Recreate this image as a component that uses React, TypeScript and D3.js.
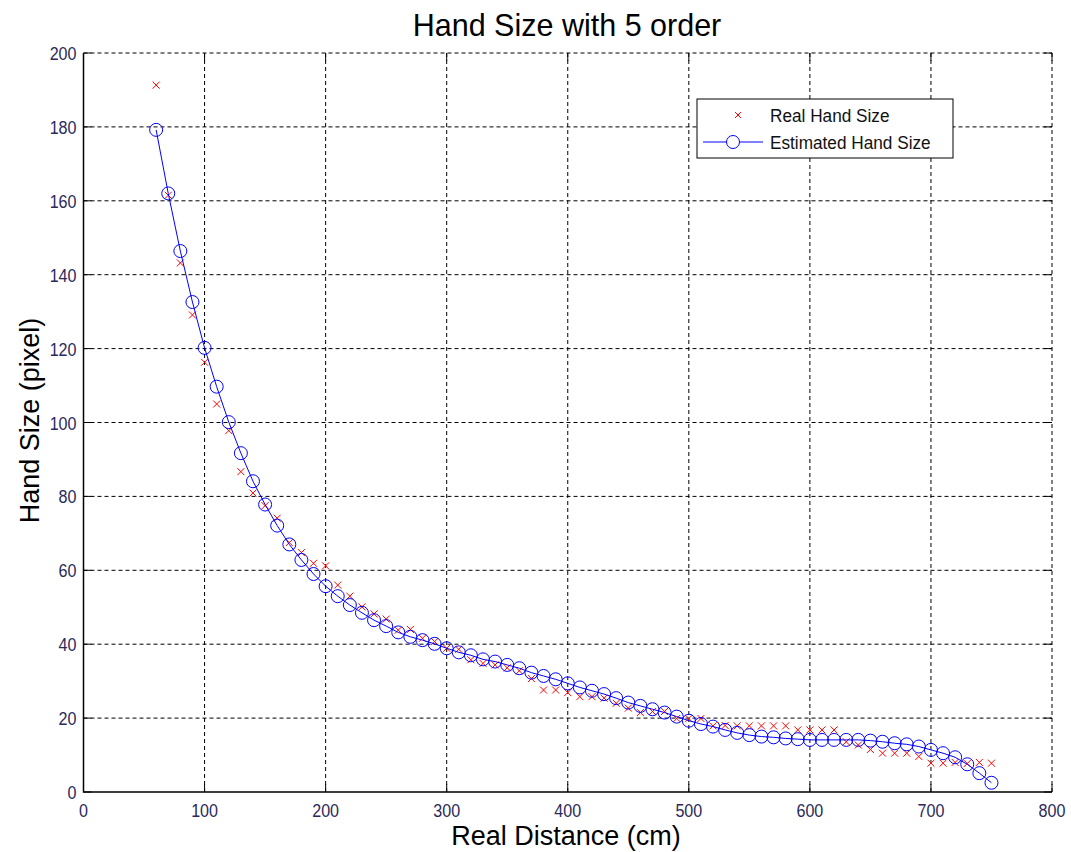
import { useEffect, useRef } from "react";
import * as d3 from "d3";

const distances = [
  60, 70, 80, 90, 100, 110, 120, 130, 140, 150, 160, 170, 180, 190, 200, 210, 220, 230, 240, 250,
  260, 270, 280, 290, 300, 310, 320, 330, 340, 350, 360, 370, 380, 390, 400, 410, 420, 430, 440, 450,
  460, 470, 480, 490, 500, 510, 520, 530, 540, 550, 560, 570, 580, 590, 600, 610, 620, 630, 640, 650,
  660, 670, 680, 690, 700, 710, 720, 730, 740, 750,
];

const realSize = [
  191.3, 161.5, 143.2, 129.1, 116.3, 105, 97.8, 86.7, 80.9, 77.5, 74.1, 67.5, 64.8, 61.9, 61.2, 56, 53, 50.1, 48.2, 46.8,
  43.8, 44, 41.6, 40.7, 38.9, 38.6, 35.8, 34.8, 34.4, 33.6, 32.8, 30.7, 27.6, 27.6, 26.9, 25.8, 25.8, 25.4, 24, 22.7,
  21.5, 21.8, 21.8, 19.9, 19.9, 19.9, 17.9, 18, 17.9, 17.9, 17.9, 17.9, 17.9, 16.8, 16.8, 16.8, 16.8, 13.6, 12.7, 11.5,
  10.5, 10.5, 10.5, 9.6, 7.8, 7.8, 8, 7.7, 8, 7.8,
];

const estimatedSize = [
  179.2, 162, 146.4, 132.6, 120.2, 109.7, 100.1, 91.7, 84.1, 77.8, 72.1, 67, 62.8, 59, 55.7, 53, 50.6, 48.5, 46.5, 44.9,
  43.2, 42, 41.1, 40.1, 38.9, 37.8, 37, 35.9, 35.3, 34.4, 33.5, 32.3, 31.4, 30.5, 29.4, 28.3, 27.4, 26.5, 25.4, 24.2,
  23.3, 22.4, 21.5, 20.4, 19.3, 18.4, 17.7, 16.8, 16, 15.4, 15, 14.8, 14.5, 14.3, 14.1, 14.1, 14.1, 14.1, 14.1, 13.9,
  13.6, 13.2, 12.9, 12.3, 11.4, 10.5, 9.4, 7.5, 5.1, 2.5,
];

const xTicks = [0, 100, 200, 300, 400, 500, 600, 700, 800];
const yTicks = [0, 20, 40, 60, 80, 100, 120, 140, 160, 180, 200];
const seriesNames = ["Real Hand Size", "Estimated Hand Size"];

export default function App() {
  const ref = useRef<SVGSVGElement>(null);

  useEffect(() => {
    const width = 1071;
    const height = 852;
    const left = 83.5;
    const right = 1052;
    const top = 53;
    const bottom = 792;
    const font = "'Liberation Sans', Arial, sans-serif";
    const tickColor = "#2a2a5a";

    const svg = d3.select(ref.current);
    svg.selectAll("*").remove();
    svg.attr("viewBox", `0 0 ${width} ${height}`);

    svg.append("rect").attr("width", width).attr("height", height).attr("fill", "#fff");

    const x = d3.scaleLinear().domain([0, 800]).range([left, right]);
    const y = d3.scaleLinear().domain([0, 200]).range([bottom, top]);

    // dotted grid (also forms the top and right edges)
    const grid = svg.append("g").attr("stroke", "#000").attr("stroke-dasharray", "4,3");
    grid
      .selectAll("line.gx")
      .data(xTicks.slice(1))
      .join("line")
      .attr("x1", (d) => x(d))
      .attr("x2", (d) => x(d))
      .attr("y1", bottom)
      .attr("y2", top);
    grid
      .selectAll("line.gy")
      .data(yTicks.slice(1))
      .join("line")
      .attr("x1", left)
      .attr("x2", right)
      .attr("y1", (d) => y(d))
      .attr("y2", (d) => y(d));

    // solid ticks on all four sides
    const ticks = svg.append("g").attr("stroke", "#000");
    ticks
      .selectAll("line.tb")
      .data(xTicks)
      .join("line")
      .attr("x1", (d) => x(d))
      .attr("x2", (d) => x(d))
      .attr("y1", bottom)
      .attr("y2", bottom - 8);
    ticks
      .selectAll("line.tt")
      .data(xTicks)
      .join("line")
      .attr("x1", (d) => x(d))
      .attr("x2", (d) => x(d))
      .attr("y1", top)
      .attr("y2", top + 8);
    ticks
      .selectAll("line.tl")
      .data(yTicks)
      .join("line")
      .attr("x1", left)
      .attr("x2", left + 8)
      .attr("y1", (d) => y(d))
      .attr("y2", (d) => y(d));
    ticks
      .selectAll("line.tr")
      .data(yTicks)
      .join("line")
      .attr("x1", right)
      .attr("x2", right - 8)
      .attr("y1", (d) => y(d))
      .attr("y2", (d) => y(d));

    // left and bottom axis lines
    svg
      .append("path")
      .attr("d", `M${left},${top}V${bottom}H${right}`)
      .attr("fill", "none")
      .attr("stroke", "#000")
      .attr("stroke-width", 1.5);

    // tick labels (narrow, like the original)
    svg
      .append("g")
      .selectAll("text")
      .data(xTicks)
      .join("text")
      .attr("transform", (d) => `translate(${x(d)},${bottom + 25}) scale(0.87,1)`)
      .attr("text-anchor", "middle")
      .attr("font-family", font)
      .attr("font-size", 18.5)
      .attr("fill", tickColor)
      .text((d) => d);
    svg
      .append("g")
      .selectAll("text")
      .data(yTicks)
      .join("text")
      .attr("transform", (d) => `translate(${left - 7},${y(d) + 7}) scale(0.87,1)`)
      .attr("text-anchor", "end")
      .attr("font-family", font)
      .attr("font-size", 18.5)
      .attr("fill", tickColor)
      .text((d) => d);

    // titles
    svg
      .append("text")
      .attr("x", 567)
      .attr("y", 36)
      .attr("text-anchor", "middle")
      .attr("font-family", font)
      .attr("font-size", 30.5)
      .text("Hand Size with 5 order");
    svg
      .append("text")
      .attr("x", 566)
      .attr("y", 845)
      .attr("text-anchor", "middle")
      .attr("font-family", font)
      .attr("font-size", 27)
      .text("Real Distance (cm)");
    svg
      .append("text")
      .attr("transform", `translate(39,${(top + bottom) / 2 - 2}) rotate(-90)`)
      .attr("text-anchor", "middle")
      .attr("font-family", font)
      .attr("font-size", 27)
      .text("Hand Size (pixel)");

    const cross = (g: any, cx: number, cy: number, r: number) =>
      g
        .append("path")
        .attr("d", `M${cx - r},${cy - r}L${cx + r},${cy + r}M${cx - r},${cy + r}L${cx + r},${cy - r}`)
        .attr("stroke", "#ff0000")
        .attr("fill", "none");

    // real hand size
    const real = svg.append("g");
    distances.forEach((d, i) => cross(real, x(d), y(realSize[i]), 3.5));

    // estimated hand size
    const line = d3
      .line<number>()
      .x((d) => x(d))
      .y((_, i) => y(estimatedSize[i]));
    svg
      .append("path")
      .datum(distances)
      .attr("d", line)
      .attr("fill", "none")
      .attr("stroke", "#0000ff")
      .attr("stroke-width", 1);
    svg
      .append("g")
      .selectAll("circle")
      .data(distances)
      .join("circle")
      .attr("cx", (d) => x(d))
      .attr("cy", (_, i) => y(estimatedSize[i]))
      .attr("r", 6.5)
      .attr("fill", "none")
      .attr("stroke", "#0000ff");

    // legend
    const lg = svg.append("g").attr("transform", "translate(697,99)");
    lg.append("rect")
      .attr("width", 256)
      .attr("height", 59)
      .attr("fill", "#fff")
      .attr("stroke", "#000");
    cross(lg, 41, 16, 3);
    lg.append("line").attr("x1", 6).attr("x2", 66).attr("y1", 43).attr("y2", 43).attr("stroke", "#0000ff");
    lg.append("circle").attr("cx", 36).attr("cy", 43).attr("r", 6.5).attr("fill", "#fff").attr("stroke", "#0000ff");
    lg.selectAll("text.leg")
      .data(seriesNames)
      .join("text")
      .attr("transform", (_, i) => `translate(73,${22.5 + i * 27}) scale(0.93,1)`)
      .attr("font-family", font)
      .attr("font-size", 18.5)
      .attr("fill", "#111")
      .text((d) => d);
  }, []);

  return (
    <div style={{ position: "absolute", left: 0, top: 0 }}>
      <svg ref={ref} width={1071} height={852} style={{ display: "block" }} />
    </div>
  );
}
